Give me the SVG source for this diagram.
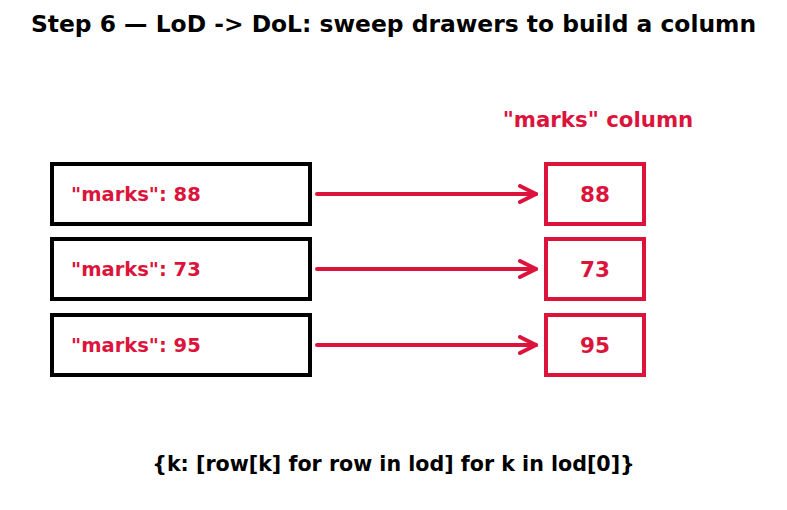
<svg xmlns="http://www.w3.org/2000/svg" width="787" height="510" viewBox="0 0 787 510">
<defs>
<style>
text{font-family:"DejaVu Sans",sans-serif;font-weight:bold}
.row{fill:#fff;stroke:#000;stroke-width:4}
.cell{fill:#fff;stroke:#DC143C;stroke-width:4}
.lbl{fill:#DC143C;font-size:19.5px}
.val{fill:#DC143C;font-size:21.5px;text-anchor:middle}
.arr{stroke:#DC143C;stroke-width:4;fill:none;stroke-linecap:round}
</style>
<marker id="ah" viewBox="0 0 10 10" refX="9" refY="5" markerWidth="5" markerHeight="5" orient="auto" markerUnits="strokeWidth">
<path d="M1,1 L9,5 L1,9" fill="none" stroke="#DC143C" stroke-width="2" stroke-linecap="round" stroke-linejoin="round"/>
</marker>
</defs>
<rect width="787" height="510" fill="#fff"/>
<text x="393.5" y="32" text-anchor="middle" font-size="23.4" fill="#000">Step 6 — LoD -&gt; DoL: sweep drawers to build a column</text>
<text x="598" y="127" text-anchor="middle" font-size="21.3" fill="#DC143C">"marks" column</text>
<g id="row1"><rect class="row" x="52" y="164" width="258" height="60"/><text class="lbl" x="71" y="201">"marks": 88</text></g>
<g id="row2"><rect class="row" x="52" y="239" width="258" height="60"/><text class="lbl" x="71" y="276">"marks": 73</text></g>
<g id="row3"><rect class="row" x="52" y="315" width="258" height="60"/><text class="lbl" x="71" y="352">"marks": 95</text></g>
<g id="cell1"><rect class="cell" x="546" y="164" width="98" height="60"/><text class="val" x="595" y="201.5">88</text></g>
<g id="cell2"><rect class="cell" x="546" y="239" width="98" height="60"/><text class="val" x="595" y="276.5">73</text></g>
<g id="cell3"><rect class="cell" x="546" y="315" width="98" height="60"/><text class="val" x="595" y="352.5">95</text></g>
<g id="connectors">
<line class="arr" x1="317" y1="194" x2="536" y2="194" marker-end="url(#ah)"/>
<line class="arr" x1="317" y1="269" x2="536" y2="269" marker-end="url(#ah)"/>
<line class="arr" x1="317" y1="345" x2="536" y2="345" marker-end="url(#ah)"/>
</g>
<text x="393.5" y="470.5" text-anchor="middle" font-size="20.6" fill="#000">{k: [row[k] for row in lod] for k in lod[0]}</text>
</svg>
